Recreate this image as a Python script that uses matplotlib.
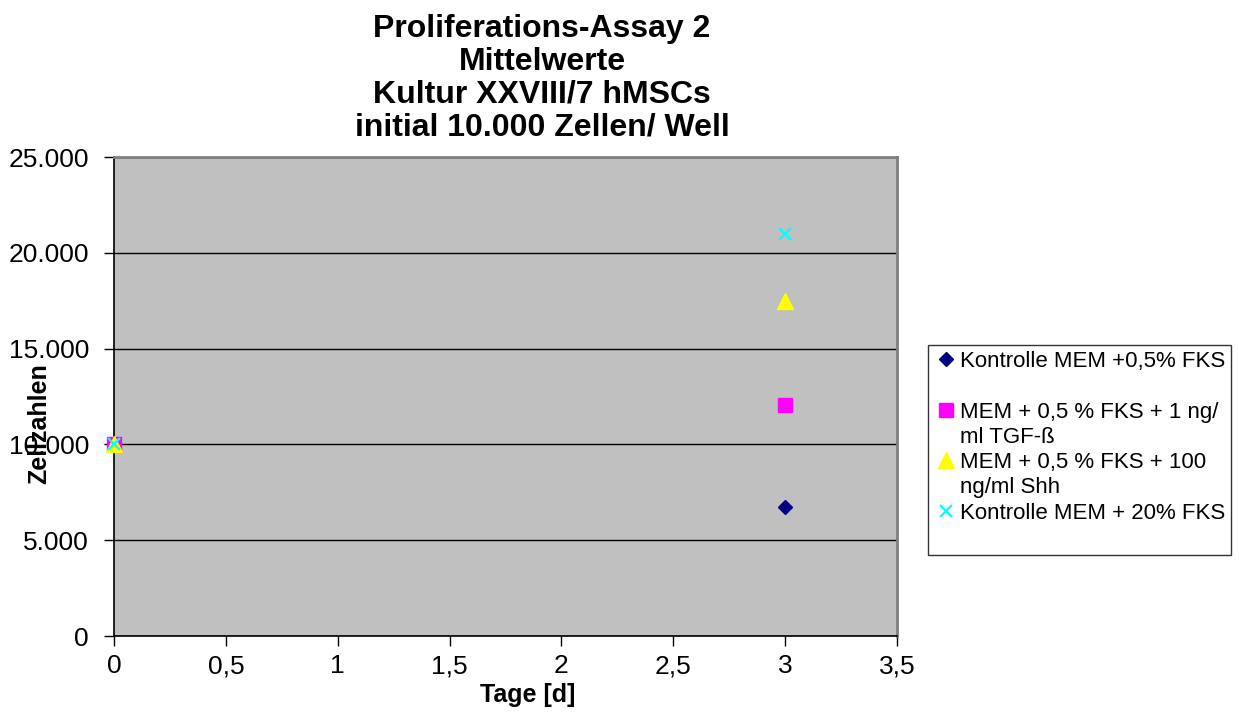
import numpy as np
import matplotlib
matplotlib.use('Agg')
import matplotlib.pyplot as plt
from matplotlib.lines import Line2D
from matplotlib.ticker import FuncFormatter

plt.rcParams['font.family'] = ['Liberation Sans', 'DejaVu Sans']

# mean cell counts per well, day 0 and day 3
tage = [0, 3]
kontrolle_05 = [10000, 6720]
tgf_beta = [10000, 12080]
shh = [10000, 17500]
kontrolle_20 = [10000, 21000]

series_labels = ['Kontrolle MEM +0,5% FKS',
                 'MEM + 0,5 % FKS + 1 ng/\nml TGF-ß',
                 'MEM + 0,5 % FKS + 100\nng/ml Shh',
                 'Kontrolle MEM + 20% FKS']

title_lines = ['Proliferations-Assay 2', 'Mittelwerte',
               'Kultur XXVIII/7 hMSCs', 'initial 10.000 Zellen/ Well']

fig = plt.figure(figsize=(12.39, 7.14), dpi=100)
ax = fig.add_axes([114 / 1239, 78 / 714, 783 / 1239, 479 / 714])
ax.set_facecolor('#C0C0C0')

ax.plot(tage, kontrolle_05, linestyle='none', marker='D', ms=7.5,
        color='#000080', clip_on=False, zorder=3)
ax.plot(tage, tgf_beta, linestyle='none', marker='s', ms=10,
        color='#FF00FF', clip_on=False, zorder=3)
ax.plot(tage, shh, linestyle='none', marker='^', ms=11,
        color='#FFFF00', clip_on=False, zorder=3)
ax.plot(tage, kontrolle_20, linestyle='none', marker='x', ms=9, mew=1.6,
        color='#00FFFF', clip_on=False, zorder=3)

ax.set_xlim(0, 3.5)
ax.set_ylim(0, 25000)
ax.set_xticks(np.arange(0, 3.51, 0.5))
ax.set_yticks(np.arange(0, 25001, 5000))
ax.xaxis.set_major_formatter(FuncFormatter(lambda v, p: ('%g' % v).replace('.', ',')))
ax.yaxis.set_major_formatter(FuncFormatter(lambda v, p: '{:,.0f}'.format(v).replace(',', '.')))
ax.tick_params(axis='both', direction='out', length=7, width=1, labelsize=19)
ax.tick_params(axis='y', pad=11)
ax.tick_params(axis='x', pad=6)
ax.yaxis.grid(True, color='black', linewidth=1)
ax.set_axisbelow(True)

for side in ['top', 'right']:
    ax.spines[side].set_color('#808080')
    ax.spines[side].set_linewidth(2)
for side in ['left', 'bottom']:
    ax.spines[side].set_color('black')
    ax.spines[side].set_linewidth(1.2)

ax.set_xlabel('Tage [d]', fontsize=18, fontweight='bold')
ax.xaxis.set_label_coords((528 - 114) / 783, -(683 - 636) / 479)
fig.text(39 / 1239, 1 - 424 / 714, 'Zellzahlen', rotation=90, fontsize=18,
         fontweight='bold', ha='center', va='center')

fig.text(542 / 1239, 1 - 14 / 714, '\n'.join(title_lines), fontsize=23,
         fontweight='bold', ha='center', va='top', linespacing=1.125)

# legend: continuation lines get their own rows without a marker
blank = Line2D([], [], linestyle='none')
handles = [Line2D([], [], linestyle='none', marker='D', ms=7.5, color='#000080'), blank,
           Line2D([], [], linestyle='none', marker='s', ms=10, color='#FF00FF'), blank,
           Line2D([], [], linestyle='none', marker='^', ms=11, color='#FFFF00'), blank,
           Line2D([], [], linestyle='none', marker='x', ms=9, mew=1.6, color='#00FFFF'), blank]
rows = []
for lab in series_labels:
    parts = lab.split('\n')
    rows.append(parts[0])
    rows.append(parts[1] if len(parts) > 1 else ' ')
leg = fig.legend(handles, rows, loc='upper left', bbox_to_anchor=(928 / 1239, 1 - 345 / 714),
                 fontsize=16, frameon=True, fancybox=False, labelspacing=0.19,
                 handlelength=1.04, handletextpad=0.1, borderpad=0.28, borderaxespad=0)
leg.get_frame().set_edgecolor('black')
leg.get_frame().set_linewidth(1)

plt.savefig('out.png', dpi=100)
